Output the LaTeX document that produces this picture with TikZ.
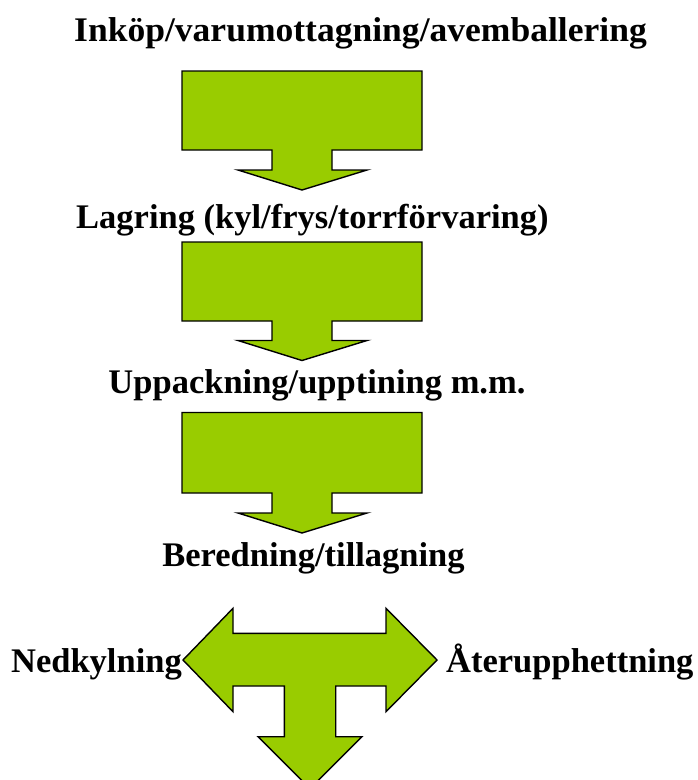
\documentclass[tikz,border=0pt]{standalone}
\usepackage{fontspec}
\setmainfont{Liberation Serif}
\newfontfamily\titlefont[FakeStretch=1.03]{Liberation Serif}
\definecolor{arrowgreen}{HTML}{99CC00}
\begin{document}
\begin{tikzpicture}[x=1pt,y=-1pt,
  lbl/.style={font=\bfseries\fontsize{34.5}{40}\selectfont, inner sep=0pt, text=black},
  arr/.style={draw=black, line width=1.4pt, fill=arrowgreen, line join=miter}]
\clip (0,0) rectangle (697,780);
\useasboundingbox (0,0) rectangle (697,780);
% down arrows
\foreach \T/\B/\HT/\TIP in {71/150/170/190, 242/321/340.5/360.5, 412.5/493/513/533}{
  \draw[arr] (182,\T) -- (422,\T) -- (422,\B) -- (332,\B) -- (332,\HT) -- (367,\HT)
    -- (302,\TIP) -- (238,\HT) -- (272,\HT) -- (272,\B) -- (182,\B) -- cycle;
}
% T arrow
\draw[arr] (183,660) -- (233,608.3) -- (233,633.3) -- (386,633.3) -- (386,608.3)
  -- (437,660) -- (386,711.7) -- (386,686) -- (335.7,686) -- (335.7,736.7)
  -- (362,736.7) -- (310,788.7) -- (258,736.7) -- (284.3,736.7) -- (284.3,686)
  -- (233,686) -- (233,711.7) -- cycle;
% labels
\node[lbl, font=\titlefont\bfseries\fontsize{34.5}{40}\selectfont, anchor=base] (t1) at (360.5,41) {Inköp/varumottagning/avemballering};
\node[lbl, anchor=base] (t2) at (312.4,228) {Lagring (kyl/frys/torrförvaring)};
\node[lbl, anchor=base] (t3) at (317,393) {Uppackning/upptining m.m.};
\node[lbl, anchor=base] (t4) at (313.5,566) {Beredning/tillagning};
\node[lbl, anchor=base east] (t5) at (182,672) {Nedkylning};
\node[lbl, anchor=base west] (t6) at (446,672) {Återupphettning};
\end{tikzpicture}
\end{document}
